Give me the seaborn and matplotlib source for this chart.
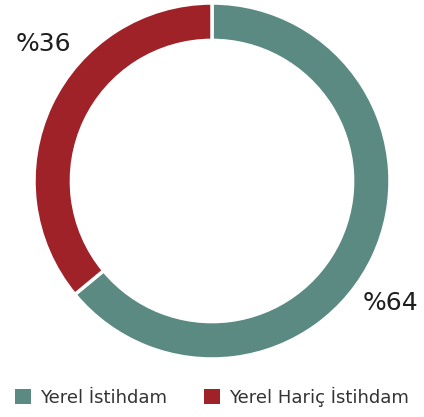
import matplotlib.pyplot as plt
import seaborn as sns
from matplotlib.patches import Patch

categories = ["Yerel İstihdam", "Yerel Hariç İstihdam"]
shares = [64, 36]
labels = ["%64", "%36"]
colors = ["#5a8a81", "#9e2228"]

sns.set_theme(style="white")
plt.rcParams['font.family'] = ['DejaVu Sans']

fig = plt.figure(figsize=(4.24, 4.17), dpi=100)
ax = fig.add_axes([(212 - 178) / 424, 1 - (181 + 178) / 417, 356 / 424, 356 / 417])

wedges, _ = ax.pie(shares, colors=colors, startangle=90, counterclock=False,
                   wedgeprops=dict(width=0.21, edgecolor="white", linewidth=2.5))
ax.set_xlim(-1, 1)
ax.set_ylim(-1, 1)
ax.set_aspect("equal")

# percentage labels outside the ring
fig.text(390 / 424, 1 - 303 / 417, labels[0], ha="center", va="center", fontsize=18, color="#1e1e1e")
fig.text(43 / 424, 1 - 44 / 417, labels[1], ha="center", va="center", fontsize=18, color="#1e1e1e")

handles = [Patch(facecolor=c, edgecolor="none") for c in colors]
fig.legend(handles, categories, loc="center", bbox_to_anchor=(0.5, 1 - 397 / 417), ncol=2,
           frameon=False, fontsize=13, handlelength=0.9, handleheight=0.9,
           handletextpad=0.5, columnspacing=2.0, labelcolor="#333333")

fig.savefig("out.png", dpi=100)
